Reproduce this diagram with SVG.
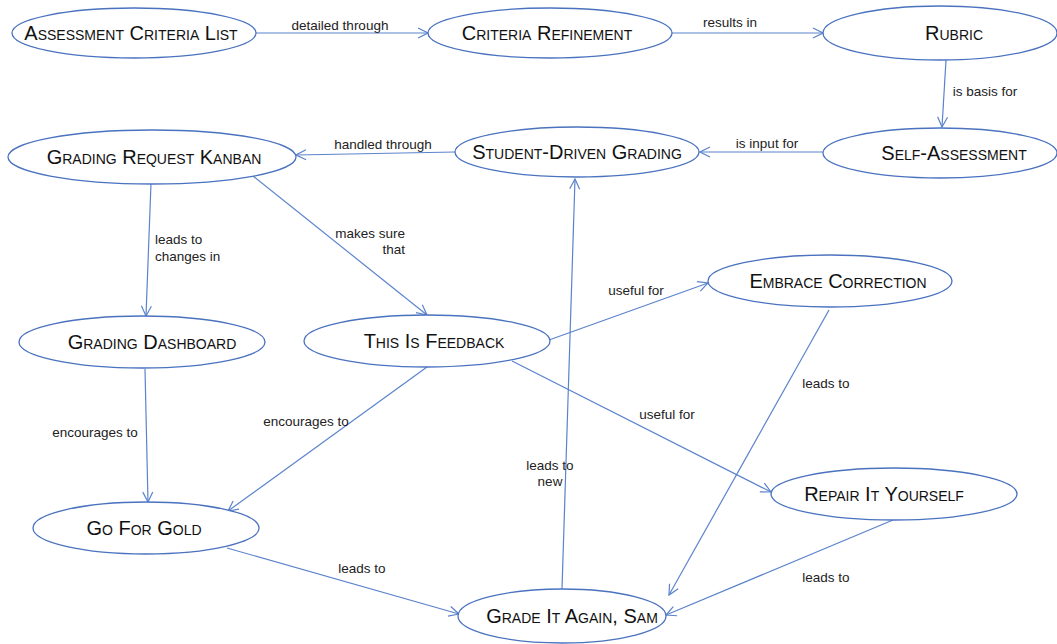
<svg xmlns="http://www.w3.org/2000/svg" width="1057" height="644" viewBox="0 0 1057 644">
<style>
.n ellipse{fill:#fff;stroke:#4a72bf;stroke-width:1.3}
.n text{font-family:"Liberation Sans",Arial,sans-serif;font-size:20px;font-variant:small-caps;fill:#111;text-anchor:middle;dominant-baseline:central}
.c line{stroke:#5b83cc;stroke-width:1.2;marker-end:url(#a)}
.l{font-family:"Liberation Sans",Arial,sans-serif;font-size:13.5px;fill:#222;text-anchor:middle}
.l.s{text-anchor:start}
.l.e{text-anchor:end}
</style>
<defs>
<marker id="a" viewBox="0 0 12 12" refX="11" refY="6" markerWidth="12" markerHeight="12" markerUnits="userSpaceOnUse" orient="auto">
<polyline points="1,1 11,6 1,11" fill="none" stroke="#5b83cc" stroke-width="1.2"/>
</marker>
</defs>
<rect width="1057" height="644" fill="#fff"/>
<g class="c">
<line x1="255" y1="33" x2="428" y2="33"/>
<line x1="672" y1="33" x2="823" y2="33"/>
<line x1="946" y1="60" x2="942" y2="127"/>
<line x1="823" y1="152" x2="700" y2="152"/>
<line x1="455" y1="152" x2="296" y2="155"/>
<line x1="151" y1="183" x2="146" y2="316"/>
<line x1="253" y1="176" x2="427" y2="315"/>
<line x1="145" y1="369" x2="148" y2="502"/>
<line x1="427" y1="367" x2="228" y2="511"/>
<line x1="549" y1="340" x2="708" y2="283"/>
<line x1="512" y1="361" x2="771" y2="492"/>
<line x1="829" y1="310" x2="669" y2="595"/>
<line x1="893" y1="520" x2="666" y2="615"/>
<line x1="227" y1="548" x2="459" y2="614"/>
<line x1="562" y1="589" x2="575" y2="179"/>
</g>
<g>
<text class="l" x="340" y="30">detailed through</text>
<text class="l" x="730" y="27">results in</text>
<text class="l" x="985" y="96">is basis for</text>
<text class="l" x="767" y="148">is input for</text>
<text class="l" x="383" y="149">handled through</text>
<text class="l s" x="155" y="244">leads to</text>
<text class="l s" x="155" y="261">changes in</text>
<text class="l e" x="405" y="238">makes sure</text>
<text class="l e" x="405" y="254">that</text>
<text class="l" x="95" y="437">encourages to</text>
<text class="l" x="306" y="426">encourages to</text>
<text class="l" x="636" y="295">useful for</text>
<text class="l" x="667" y="419">useful for</text>
<text class="l" x="826" y="388">leads to</text>
<text class="l" x="826" y="582">leads to</text>
<text class="l" x="362" y="573">leads to</text>
<text class="l" x="550" y="470">leads to</text>
<text class="l" x="550" y="486">new</text>
</g>
<g id="n1" class="n"><ellipse cx="134" cy="33" rx="122" ry="25"/><text x="131" y="33">Assessment Criteria List</text></g>
<g id="n2" class="n"><ellipse cx="550" cy="33" rx="122" ry="25"/><text x="547" y="33">Criteria Refinement</text></g>
<g id="n3" class="n"><ellipse cx="940" cy="33" rx="117" ry="27"/><text x="954" y="33">Rubric</text></g>
<g id="n4" class="n"><ellipse cx="940" cy="153" rx="117" ry="25"/><text x="954" y="153">Self-Assessment</text></g>
<g id="n5" class="n"><ellipse cx="577" cy="152" rx="122" ry="25"/><text x="577" y="152">Student-Driven Grading</text></g>
<g id="n6" class="n"><ellipse cx="152" cy="157" rx="144" ry="27"/><text x="154" y="157">Grading Request Kanban</text></g>
<g id="n7" class="n"><ellipse cx="142" cy="342" rx="123" ry="26"/><text x="152" y="342">Grading Dashboard</text></g>
<g id="n8" class="n"><ellipse cx="427" cy="341" rx="123" ry="26"/><text x="434" y="341">This Is Feedback</text></g>
<g id="n9" class="n"><ellipse cx="830" cy="281" rx="122" ry="26"/><text x="838" y="281">Embrace Correction</text></g>
<g id="n10" class="n"><ellipse cx="894" cy="494" rx="123" ry="26"/><text x="884" y="494">Repair It Yourself</text></g>
<g id="n11" class="n"><ellipse cx="146" cy="528" rx="113" ry="26"/><text x="144" y="528">Go For Gold</text></g>
<g id="n12" class="n"><ellipse cx="562" cy="616" rx="104" ry="27"/><text x="572" y="616">Grade It Again, Sam</text></g>
</svg>
